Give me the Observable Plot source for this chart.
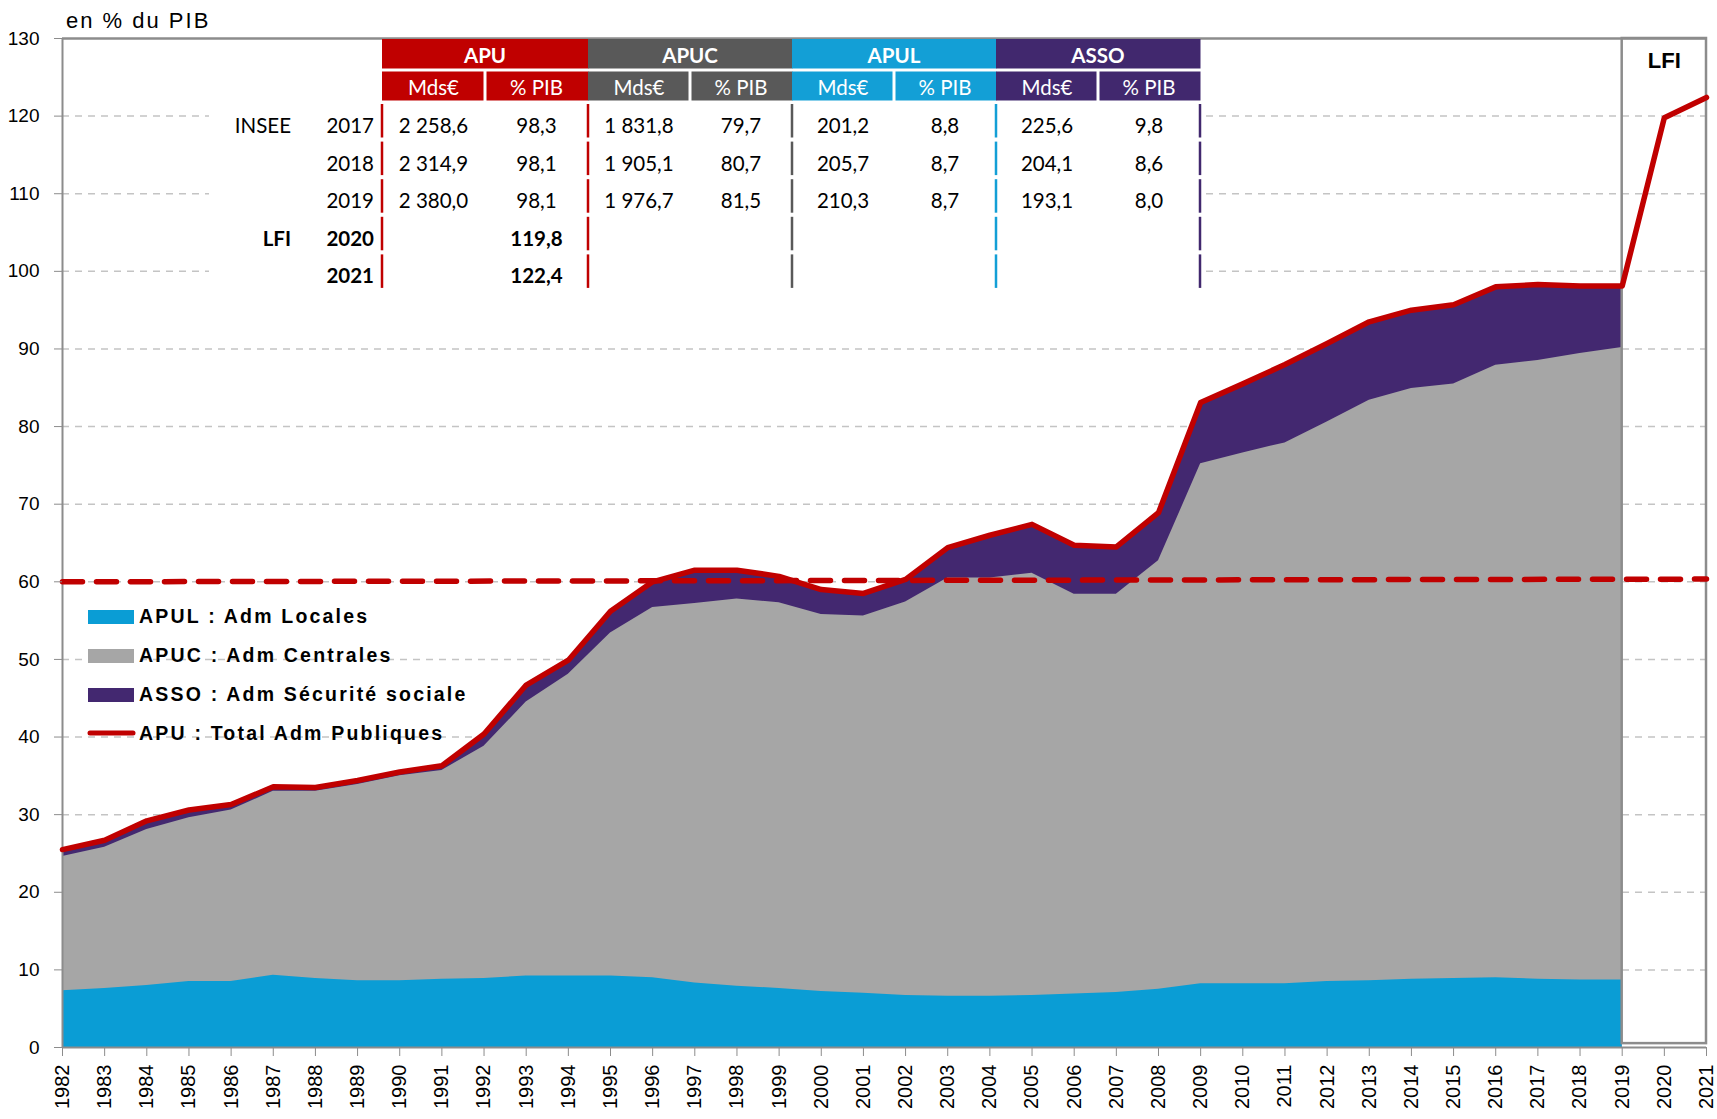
<!DOCTYPE html>
<html><head><meta charset="utf-8">
<script src="https://cdn.jsdelivr.net/npm/d3@7"></script>
<script src="https://cdn.jsdelivr.net/npm/@observablehq/plot@0.6"></script>
<style>
body{margin:0;background:#fff;}
#wrap{position:relative;width:1717px;height:1119px;overflow:hidden;background:#fff;}
#wrap > svg{position:absolute;left:0;top:0;}
</style></head><body><div id="wrap"></div>
<script>
// ---------- data ----------
const areaYears = [1982,1983,1984,1985,1986,1987,1988,1989,1990,1991,1992,1993,1994,1995,1996,1997,1998,1999,2000,2001,2002,2003,2004,2005,2006,2007,2008,2009,2010,2011,2012,2013,2014,2015,2016,2017,2018,2019];
const apuYears = [...areaYears, 2020, 2021];
const APUL = [7.3,7.6,8.0,8.5,8.5,9.3,8.9,8.6,8.6,8.8,8.9,9.2,9.2,9.2,9.0,8.3,7.9,7.6,7.2,7.0,6.7,6.6,6.6,6.7,6.9,7.1,7.5,8.2,8.2,8.2,8.5,8.6,8.8,8.9,9.0,8.8,8.7,8.7];
const APUC = [17.3,18.2,20.1,21.1,22.1,23.7,24.1,25.3,26.4,26.9,29.9,35.3,38.9,44.2,47.7,48.9,49.9,49.7,48.6,48.6,50.7,53.9,53.9,54.4,51.5,51.3,55.2,67.0,68.4,69.7,72.1,74.8,76.1,76.6,78.9,79.7,80.7,81.5];
const ASSO = [0.9,0.9,1.1,1.0,0.7,0.6,0.5,0.5,0.5,0.6,1.6,2.2,1.8,2.8,3.3,4.3,3.7,3.4,3.2,2.9,2.9,3.9,5.5,6.3,6.3,6.1,6.2,7.9,8.9,10.1,10.1,10.1,10.1,10.2,10.1,9.8,8.7,7.9];
const APU = [25.5,26.7,29.2,30.6,31.3,33.6,33.5,34.4,35.5,36.3,40.4,46.7,49.9,56.2,60.0,61.5,61.5,60.7,59.0,58.5,60.3,64.4,66.0,67.4,64.7,64.5,68.9,83.1,85.5,88.0,90.7,93.5,95.0,95.7,98.0,98.3,98.1,98.1,119.8,122.4];
const yTicks = [0,10,20,30,40,50,60,70,80,90,100,110,120,130];
const gridTicks = [10,20,30,40,50,60,70,80,90,100,110,120];
const thresholdYears = [1982, 2021];
const thresholdValues = [60.0, 60.35];
const lfiBox = {x1: 2019, x2: 2021, y1: 0.5, y2: 130};
const lfiLabel = {x: 2020, y: 127.1, text: "LFI"};

const colors = {APUL: "#0a9dd5", APUC: "#a6a6a6", ASSO: "#432870", APU: "#c00000"};

const legendLabels = ["APUL : Adm Locales", "APUC : Adm Centrales", "ASSO : Adm Sécurité sociale", "APU : Total Adm Publiques"];
const legendKeys = ["APUL", "APUC", "ASSO", "APU"];

const tableGroups = ["APU", "APUC", "APUL", "ASSO"];
const tableGroupColors = ["#c00000", "#595959", "#139fd6", "#41286e"];
const tableSubHeads = ["Mds€", "% PIB"];
const tableSources = ["INSEE", "", "", "LFI", ""];
const tableYears = ["2017", "2018", "2019", "2020", "2021"];
const tableBold = [false, false, false, true, true];
const apuMds  = ["2 258,6", "2 314,9", "2 380,0", "", ""];
const apuPib  = ["98,3", "98,1", "98,1", "119,8", "122,4"];
const apucMds = ["1 831,8", "1 905,1", "1 976,7", "", ""];
const apucPib = ["79,7", "80,7", "81,5", "", ""];
const apulMds = ["201,2", "205,7", "210,3", "", ""];
const apulPib = ["8,8", "8,7", "8,7", "", ""];
const assoMds = ["225,6", "204,1", "193,1", "", ""];
const assoPib = ["9,8", "8,6", "8,0", "", ""];

// ---------- chart ----------
const areaRows = areaYears.map((year, i) => ({
  year,
  apul: APUL[i],
  apucTop: APUL[i] + APUC[i],
  total: APUL[i] + APUC[i] + ASSO[i]
}));
const apuRows = apuYears.map((year, i) => ({year, v: APU[i]}));
const thresholdRows = thresholdYears.map((year, i) => ({year, v: thresholdValues[i]}));

const axisGray = "#8c8c8c";
const chart = Plot.plot({
  width: 1717, height: 1119,
  marginLeft: 62, marginRight: 11, marginTop: 38, marginBottom: 72,
  style: {fontFamily: "'Liberation Sans', Arial, sans-serif", background: "transparent", overflow: "visible", color: "#000"},
  x: {domain: [1982, 2021]},
  y: {domain: [0, 130]},
  marks: [
    Plot.ruleY(gridTicks, {stroke: "#c4c4c4", strokeWidth: 1.5, strokeDasharray: "7,6"}),
    Plot.areaY(areaRows, {x: "year", y1: 0, y2: "total", fill: colors.ASSO}),
    Plot.areaY(areaRows, {x: "year", y1: 0, y2: "apucTop", fill: colors.APUC}),
    Plot.areaY(areaRows, {x: "year", y1: 0, y2: "apul", fill: colors.APUL}),
    Plot.rect([lfiBox], {x1: "x1", x2: "x2", y1: "y1", y2: "y2", fill: "none", stroke: axisGray, strokeWidth: 2.5}),
    Plot.ruleX([1982], {stroke: axisGray, strokeWidth: 2}),
    Plot.ruleY([0], {stroke: axisGray, strokeWidth: 2}),
    Plot.ruleY([130], {stroke: axisGray, strokeWidth: 2.5}),
    Plot.line(thresholdRows, {x: "year", y: "v", stroke: colors.APU, strokeWidth: 5.5, strokeDasharray: "20,14"}),
    Plot.line(apuRows, {x: "year", y: "v", stroke: colors.APU, strokeWidth: 5.5, strokeLinejoin: "round"}),
    Plot.text([lfiLabel], {x: "x", y: "y", text: "text", fontSize: 22, fontWeight: "bold", fill: "#000"}),
    Plot.axisY({ticks: yTicks, tickSize: 8, tickPadding: 15, fontSize: 19, stroke: axisGray, fill: "#000", label: null}),
    Plot.axisX({ticks: apuYears, tickFormat: d => String(d), tickRotate: -90, tickSize: 9, tickPadding: 8, fontSize: 20, stroke: axisGray, fill: "#000", label: null})
  ]
});
const wrap = document.getElementById("wrap");
wrap.appendChild(chart);

// ---------- overlay: title, table, legend ----------
const ov = d3.select(wrap).append("svg")
  .attr("width", 1717).attr("height", 1119)
  .style("pointer-events", "none");

ov.append("text").attr("x", 66).attr("y", 28)
  .style("font", "22px 'Liberation Sans', Arial, sans-serif")
  .style("letter-spacing", "2px")
  .attr("fill", "#000").text("en % du PIB");

// table
const tFont = "Lato, 'Open Sans', sans-serif";
ov.append("rect").attr("x", 209).attr("y", 40).attr("width", 992).attr("height", 252).attr("fill", "#fff");
const edges = [382, 588, 792, 996, 1200];
const cols = [[apuMds, apuPib], [apucMds, apucPib], [apulMds, apulPib], [assoMds, assoPib]];
tableGroups.forEach((g, i) => {
  const x0 = edges[i], x1 = edges[i + 1], mid = (x0 + x1) / 2;
  const c = tableGroupColors[i];
  ov.append("rect").attr("x", x0).attr("y", 39).attr("width", x1 - x0 + 0.5).attr("height", 29.5).attr("fill", c);
  ov.append("rect").attr("x", x0).attr("y", 71.5).attr("width", mid - 1.5 - x0).attr("height", 29).attr("fill", c);
  ov.append("rect").attr("x", mid + 1.5).attr("y", 71.5).attr("width", x1 - mid - 1.5 + 0.5).attr("height", 29).attr("fill", c);
  ov.append("text").attr("x", mid).attr("y", 63).attr("text-anchor", "middle")
    .style("font", `bold 20.5px ${tFont}`).attr("fill", "#fff").text(g);
  const centers = [(x0 + mid) / 2, (mid + x1) / 2];
  tableSubHeads.forEach((s, j) => {
    ov.append("text").attr("x", centers[j]).attr("y", 94.5).attr("text-anchor", "middle")
      .style("font", `20.5px ${tFont}`).attr("fill", "#fff").text(s);
  });
  tableYears.forEach((yr, r) => {
    const top = 102 + 37.6 * r;
    ov.append("rect").attr("x", x1 - 1.25).attr("y", top + 2).attr("width", 2.5).attr("height", 33.5).attr("fill", c);
    if (i === 0) ov.append("rect").attr("x", x0 - 1.25).attr("y", top + 2).attr("width", 2.5).attr("height", 33.5).attr("fill", c);
    cols[i].forEach((arr, j) => {
      if (arr[r]) ov.append("text").attr("x", centers[j]).attr("y", 133 + 37.6 * r).attr("text-anchor", "middle")
        .style("font", `${tableBold[r] ? "bold " : ""}20.5px ${tFont}`).attr("fill", "#000").text(arr[r]);
    });
  });
});
tableYears.forEach((yr, r) => {
  const f = `${tableBold[r] ? "bold " : ""}20.5px ${tFont}`;
  const y = 133 + 37.6 * r;
  ov.append("text").attr("x", 374).attr("y", y).attr("text-anchor", "end").style("font", f).attr("fill", "#000").text(yr);
  if (tableSources[r]) ov.append("text").attr("x", 291).attr("y", y).attr("text-anchor", "end").style("font", f).attr("fill", "#000").text(tableSources[r]);
});

// legend
legendLabels.forEach((lab, i) => {
  const base = 623 + 39 * i;
  const key = legendKeys[i];
  if (key === "APU") {
    ov.append("line").attr("x1", 90).attr("x2", 133).attr("y1", base - 7).attr("y2", base - 7)
      .attr("stroke", colors.APU).attr("stroke-width", 5).attr("stroke-linecap", "round");
  } else {
    ov.append("rect").attr("x", 88).attr("y", base - 13).attr("width", 46).attr("height", 14).attr("fill", colors[key]);
  }
  ov.append("text").attr("x", 139).attr("y", base)
    .style("font", "bold 19.5px 'Liberation Sans', Arial, sans-serif")
    .style("letter-spacing", "2.2px")
    .attr("fill", "#000").text(lab);
});
</script></body></html>
